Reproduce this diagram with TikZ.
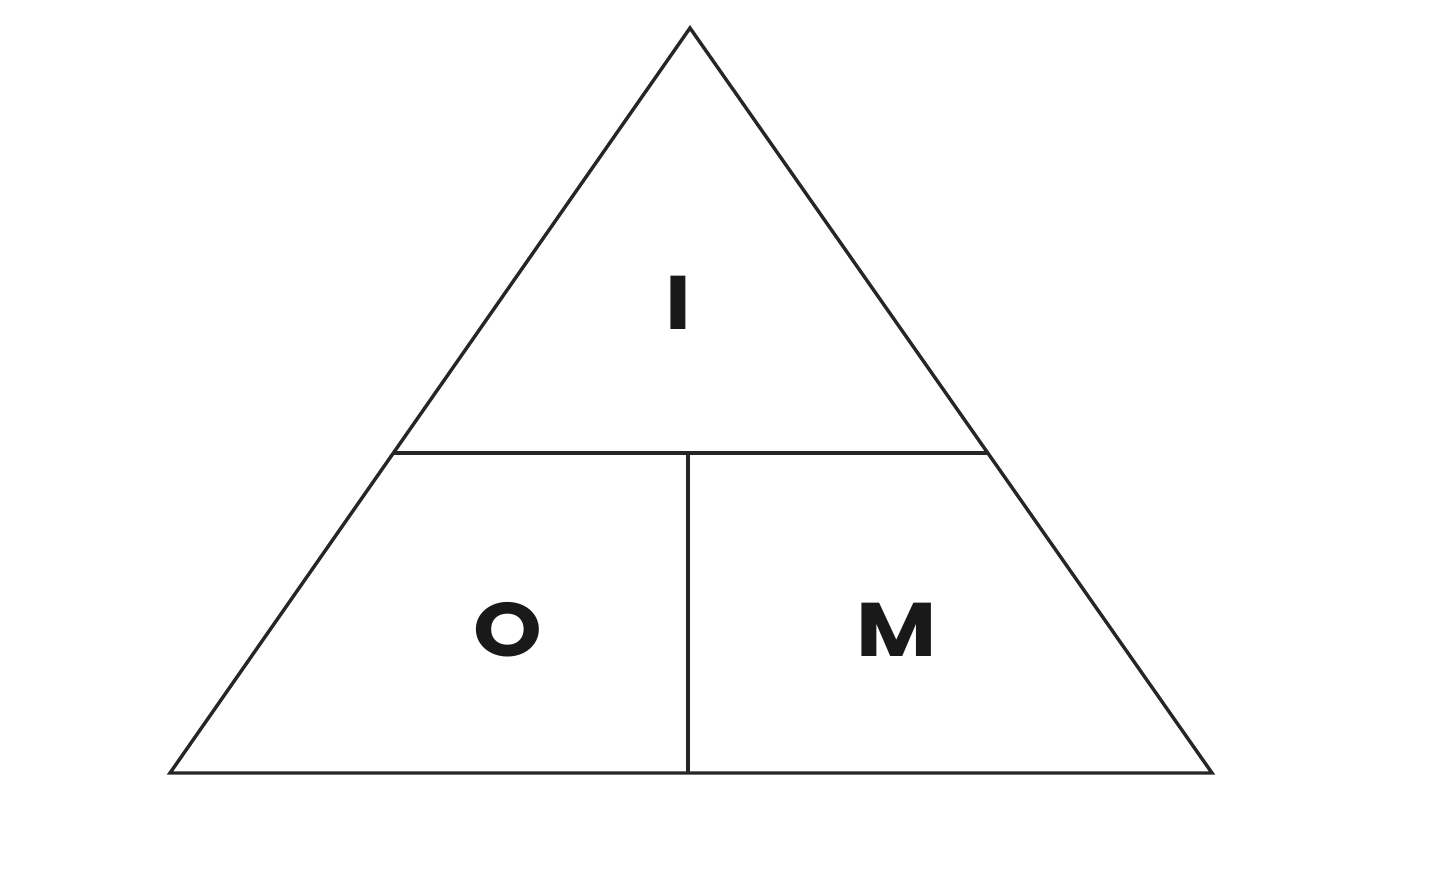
\documentclass[tikz,border=0pt]{standalone}
\usepackage{fontspec}
\setmainfont{Poppins}[FakeStretch=1.15]
\usetikzlibrary{calc}
\begin{document}
\begin{tikzpicture}[x=0.5pt,y=-0.5pt,
  edge/.style={line width=1.7pt,draw=black!85,line join=miter},
  lbl/.style={font=\fontsize{38}{40}\selectfont\bfseries,text=black!90,inner sep=0pt}]
\useasboundingbox (0,0) rectangle (1440,878);
\coordinate (A) at (690,28);
\coordinate (B) at (170,773);
\coordinate (C) at (1212,773);
\coordinate (L) at ($(B)!0.4295!(A)$);
\coordinate (R) at ($(C)!0.4295!(A)$);
\coordinate (T) at (688,453);
\coordinate (D) at (688,773);
\draw[edge] (A) -- (B) -- (C) -- cycle;
\draw[edge] (L) -- (R);
\draw[edge] (T) -- (D);
\node[lbl] (i) at (678,303) {I};
\node[lbl] (o) at (508,630) {O};
\node[lbl] (m) at (897,630) {M};
\end{tikzpicture}
\end{document}
